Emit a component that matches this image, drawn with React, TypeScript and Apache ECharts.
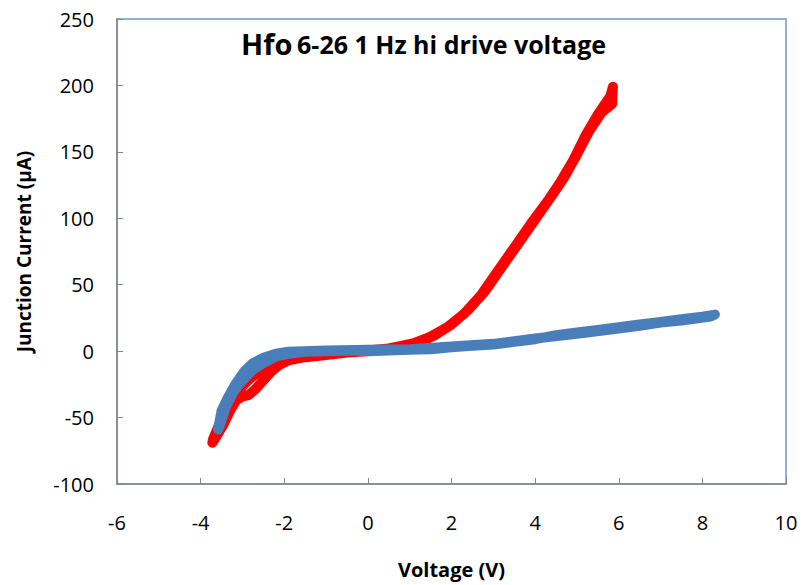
import React, { useEffect, useRef } from "react";
import * as echarts from "echarts";

// Red sweep: voltage (V) and junction current (µA)
const redV = [0, 0.5, 0.8, 1.1, 1.5, 1.9, 2.3, 2.7, 3.1, 3.5, 3.9, 4.3, 4.6, 4.9, 5.2, 5.5, 5.8, 5.86,
  5.84, 5.6, 5.3, 5.0, 4.7, 4.4, 4.0, 3.6, 3.2, 2.8, 2.4, 2.0, 1.6, 1.2, 0.8, 0.4, 0, -0.5, -1.0, -1.6, -1.9,
  -2.1, -2.3, -2.5, -2.7, -2.85, -3.0, -3.15, -3.3, -3.45, -3.6, -3.72, -3.7, -3.62, -3.45, -3.2, -2.9, -2.6,
  -2.3, -2.0, -1.6, -1.0, -0.5, 0];
const redI = [0.5, 2, 4, 6, 11, 18, 28, 42, 60, 78, 96, 113, 127, 143, 162, 178, 192, 199,
  186, 180, 166, 148, 131, 117, 99, 81, 63, 45, 31, 20, 12, 6, 3, 1.5, 0, -1, -3, -5, -7,
  -10, -15, -22, -29, -33, -34, -37, -45, -55, -63, -69, -66, -60, -47, -33, -23, -15,
  -9, -5, -3, -2, 0, 0.5];

// Blue sweep
const blueV = [0, 0.5, 1.0, 1.5, 2.0, 2.5, 3.0, 3.5, 4.0, 4.5, 5.0, 5.5, 6.0, 6.5, 7.0, 7.5, 8.0, 8.3,
  8.2, 7.5, 7.0, 6.5, 6.0, 5.0, 4.0, 3.0, 2.0, 1.0, 0.0, -1.0, -1.9, -2.2, -2.5, -2.75, -2.95, -3.15, -3.35,
  -3.5, -3.56, -3.58, -3.5, -3.4, -3.2, -3.0, -2.75, -2.5, -2.2, -1.9, -1.5, -1.0, -0.5, 0];
const blueI = [0, 0.5, 1, 1.5, 3, 4, 5, 7, 9, 12, 14, 16, 18, 20, 22, 24, 26, 27.5,
  26, 23, 21.5, 19, 17, 13, 9.5, 5.5, 3.5, 1.5, 1, 0.5, -0.5, -2, -5, -9, -15, -24, -35,
  -45, -55, -59, -52, -42, -30, -22, -14, -9, -4, -2, -0.5, 0, 0.5, 0];

const xMin = -6, xMax = 10, xStep = 2;
const yMin = -100, yMax = 250, yStep = 50;

const titleMain = "Hfo";
const titleRest = "6-26 1 Hz hi drive voltage";
const xName = "Voltage (V)";
const yName = "Junction Current (\u03bcA)";

const FONT = "'Open Sans', 'Noto Sans', sans-serif";

export default function App() {
  const ref = useRef<HTMLDivElement>(null);
  useEffect(() => {
    if (!ref.current) return;
    const chart = echarts.init(ref.current, null, { renderer: "svg" });
    const red = redV.map((v, i) => [v, redI[i]]);
    const blue = blueV.map((v, i) => [v, blueI[i]]);
    chart.setOption({
      animation: false,
      backgroundColor: "#ffffff",
      textStyle: { fontFamily: FONT },
      title: {
        text: `{a|${titleMain}} {b|${titleRest}}`,
        left: 236,
        top: 24,
        textStyle: {
          rich: {
            a: { fontFamily: FONT, fontWeight: "bold", fontSize: 29, color: "#000" },
            b: { fontFamily: FONT, fontWeight: "bold", fontSize: 25, color: "#000" },
          },
        },
      },
      grid: {
        left: 117,
        right: 20,
        top: 19,
        bottom: 101,
        show: true,
        borderColor: "#6f98cc",
        borderWidth: 1.5,
        backgroundColor: "transparent",
      },
      xAxis: {
        type: "value",
        min: xMin,
        max: xMax,
        interval: xStep,
        name: xName,
        nameLocation: "middle",
        nameGap: 75,
        nameTextStyle: { fontFamily: FONT, fontWeight: "bold", fontSize: 20, color: "#000" },
        axisLine: { show: true, onZero: false, lineStyle: { color: "#868686", width: 1.5 } },
        axisTick: { show: true, inside: true, length: 6, lineStyle: { color: "#868686" } },
        axisLabel: { fontFamily: FONT, fontSize: 20, color: "#000", margin: 28 },
        splitLine: { show: false },
      },
      yAxis: {
        type: "value",
        min: yMin,
        max: yMax,
        interval: yStep,
        name: yName,
        nameLocation: "middle",
        nameGap: 84,
        nameRotate: 90,
        nameTextStyle: { fontFamily: FONT, fontWeight: "bold", fontSize: 19, color: "#000" },
        axisLine: { show: true, onZero: false, lineStyle: { color: "#868686", width: 1.5 } },
        axisTick: { show: true, inside: true, length: 6, lineStyle: { color: "#868686" } },
        axisLabel: { fontFamily: FONT, fontSize: 20, color: "#000", margin: 23 },
        splitLine: { show: false },
      },
      series: [
        {
          type: "line",
          data: red,
          showSymbol: false,
          symbol: "none",
          lineStyle: { color: "#ff0000", width: 10, cap: "round", join: "round" },
          z: 2,
        },
        {
          type: "line",
          data: blue,
          showSymbol: false,
          symbol: "none",
          lineStyle: { color: "#4a7ebb", width: 10, cap: "round", join: "round" },
          z: 3,
        },
      ],
    });
    return () => chart.dispose();
  }, []);
  return (
    <div
      ref={ref}
      style={{ position: "fixed", left: 0, top: 0, width: 806, height: 585 }}
    />
  );
}
